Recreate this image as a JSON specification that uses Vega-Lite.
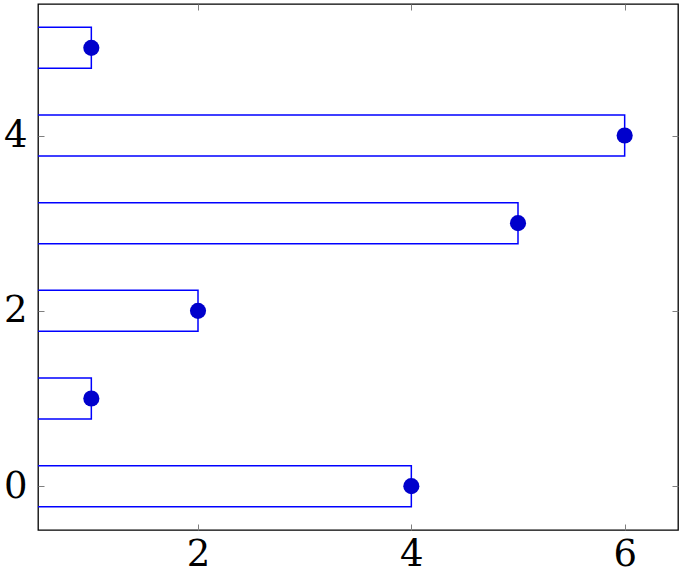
{
  "$schema": "https://vega.github.io/schema/vega-lite/v6.json",
  "description": "Horizontal bars (outline only) with a dot at each bar end.",
  "width": 640,
  "height": 526,
  "autosize": {"type": "none"},
  "padding": {"left": 38, "top": 4, "right": 6, "bottom": 48},
  "data": {
    "values": [
      {"pos": 0, "value": 4},
      {"pos": 1, "value": 1},
      {"pos": 2, "value": 2},
      {"pos": 3, "value": 5},
      {"pos": 4, "value": 6},
      {"pos": 5, "value": 1}
    ]
  },
  "encoding": {
    "x": {
      "field": "value",
      "type": "quantitative",
      "scale": {"domain": [0.5, 6.5], "zero": false, "nice": false, "padding": 0}
    },
    "y": {
      "field": "pos",
      "type": "quantitative",
      "scale": {"domain": [-0.5, 5.5], "zero": false, "nice": false, "padding": 0}
    }
  },
  "layer": [
    {
      "mark": {
        "type": "bar",
        "orient": "horizontal",
        "size": 41,
        "fill": "white",
        "fillOpacity": 0,
        "stroke": "#0000ff",
        "strokeWidth": 1.5,
        "clip": true
      },
      "encoding": {
        "x": {
          "field": "value",
          "type": "quantitative",
          "stack": null,
          "axis": {"orient": "bottom", "values": [2, 4, 6], "title": null}
        },
        "x2": {"datum": 0},
        "y": {
          "field": "pos",
          "type": "quantitative",
          "axis": {"orient": "left", "values": [0, 2, 4], "title": null, "labelPadding": 17}
        }
      }
    },
    {
      "mark": {
        "type": "point",
        "shape": "circle",
        "filled": true,
        "size": 260,
        "color": "#0000cc",
        "opacity": 1
      },
      "encoding": {
        "x": {
          "field": "value",
          "type": "quantitative",
          "axis": {"orient": "top", "values": [2, 4, 6], "labels": false, "title": null}
        },
        "y": {
          "field": "pos",
          "type": "quantitative",
          "axis": {"orient": "right", "values": [0, 2, 4], "labels": false, "title": null}
        }
      }
    }
  ],
  "resolve": {"axis": {"x": "independent", "y": "independent"}},
  "config": {
    "view": {"stroke": "black", "strokeWidth": 1.3},
    "axis": {
      "grid": false,
      "domain": false,
      "ticks": true,
      "tickSize": -6,
      "tickColor": "#7f7f7f",
      "tickWidth": 1,
      "labelFont": "DejaVu Serif",
      "labelFontSize": 37,
      "labelColor": "black",
      "labelPadding": 12
    }
  }
}
